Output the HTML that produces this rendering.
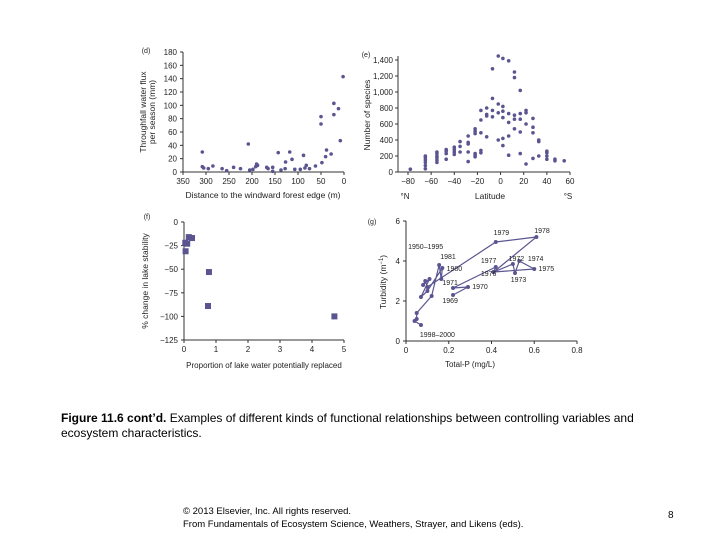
<!DOCTYPE html>
<html><head><meta charset="utf-8"><style>
html,body{margin:0;padding:0;background:#fff;width:720px;height:540px;overflow:hidden;font-family:"Liberation Sans",Arial,sans-serif}
svg{position:absolute;left:0;top:0}
.cap{position:absolute;left:61px;top:411px;font-size:12px;color:#000;line-height:15px;width:600px}
.cr{position:absolute;left:183px;top:505px;font-size:9.5px;line-height:13px}
.pg{position:absolute;left:668px;top:510px;font-size:10px}
</style></head><body>
<svg id="fig" width="720" height="540" font-family="Liberation Sans, Arial, sans-serif"></svg>
<div class="cap"><b>Figure 11.6 cont’d.</b> Examples of different kinds of functional relationships between controlling variables and ecosystem characteristics.</div>
<div class="cr">© 2013 Elsevier, Inc. All rights reserved.<br>From Fundamentals of Ecosystem Science, Weathers, Strayer, and Likens (eds).</div>
<div class="pg">8</div>
<script>
// panel d
const dDist=[308,308,305,295,285,265,255,240,225,208,205,198,192,190,188,168,165,155,155,143,137,128,127,118,113,107,95,88,85,82,75,62,50,50,48,40,38,28,22,22,12,8,2];
const dFlux=[30,8,6,5,9,5,2,7,5,42,3,4,8,12,10,7,5,7,1,29,3,5,15,30,19,4,4,25,6,10,5,9,83,72,14,23,33,27,103,86,95,47,143];
const dXTicks=[350,300,250,200,150,100,50,0];
const dYTicks=[0,20,40,60,80,100,120,140,160,180];
// panel e
const eLat=[-78,-65,-65,-65,-65,-65,-65,-55,-55,-55,-55,-55,-55,-47,-47,-47,-47,-40,-40,-40,-40,-35,-35,-35,-28,-28,-28,-28,-28,-22,-22,-22,-22,-22,-22,-17,-17,-17,-17,-17,-12,-12,-12,-12,-7,-7,-7,-7,-2,-2,-2,-2,2,2,2,2,2,2,7,7,7,7,7,12,12,12,12,12,17,17,17,17,17,22,22,22,22,28,28,28,28,33,33,33,40,40,40,40,47,47,55];
const eSpecies=[35,40,80,120,150,180,200,120,150,180,200,230,250,160,230,260,280,220,250,280,310,250,320,380,130,250,350,370,450,190,210,230,480,510,540,240,270,490,650,770,440,700,720,800,690,770,920,1290,400,740,850,1450,330,420,680,760,820,1420,210,450,620,730,1390,540,660,710,1180,1250,230,500,660,730,1020,100,600,740,770,170,490,560,670,200,380,400,160,200,240,260,140,160,140];
const eXTicks=[-80,-60,-40,-20,0,20,40,60];
const eYTicks=[0,200,400,600,800,1000,1200,1400];
// panel f
const fProp=[0.04,0.05,0.1,0.15,0.25,0.78,0.75,4.7];
const fChange=[-22,-31,-23,-16,-17,-53,-89,-100];
const fXTicks=[0,1,2,3,4,5];
const fYTicks=[0,-25,-50,-75,-100,-125];
// panel g
const gP=[0.07,0.04,0.05,0.05,0.12,0.155,0.165,0.17,0.1,0.07,0.11,0.08,0.09,0.1,0.42,0.61,0.41,0.6,0.53,0.51,0.5,0.41,0.42,0.22,0.29,0.22];
const gTurb=[0.8,1.0,1.1,1.4,2.25,3.8,3.1,3.65,2.5,2.2,3.1,2.8,3.0,2.7,4.95,5.2,3.45,3.6,4.0,3.4,3.85,3.45,3.7,2.65,2.7,2.3];
const gXTicks=[0,0.2,0.4,0.6,0.8];
const gYTicks=[0,2,4,6];
const gLabels=["1998–2000","1950–1995","1981","1980","1971","1969","1970","1979","1978","1977","1972","1974","1976","1975","1973"];
const gLabelPos=[[0.065,0.2],[0.01,4.6],[0.16,4.1],[0.19,3.5],[0.17,2.8],[0.17,1.9],[0.31,2.6],[0.41,5.3],[0.6,5.4],[0.35,3.9],[0.48,4.0],[0.57,4.0],[0.35,3.25],[0.62,3.5],[0.49,2.95]];

const NS='http://www.w3.org/2000/svg';
const svg=document.getElementById('fig');
const C='#5a5590';
function mk(t,a,p){const e=document.createElementNS(NS,t);for(const k in a)e.setAttribute(k,a[k]);(p||svg).appendChild(e);return e;}
function txt(x,y,s,size,anchor,p,rot){const e=mk('text',{x:x,y:y,'font-size':size,'text-anchor':anchor||'middle',fill:'#222'},p);if(rot)e.setAttribute('transform','rotate(-90 '+x+' '+y+')');e.textContent=s;return e;}
function lin(d0,d1,r0,r1){return v=>r0+(v-d0)*(r1-r0)/(d1-d0);}

function axes(g,sx,sy,x0,x1,y0,y1,xt,yt,fmtX,fmtY){
  mk('line',{x1:sx(x0),y1:sy(y0),x2:sx(x1),y2:sy(y0),stroke:'#333','stroke-width':1},g);
  mk('line',{x1:sx(x0),y1:sy(y0),x2:sx(x0),y2:sy(y1),stroke:'#333','stroke-width':1},g);
  xt.forEach(v=>{mk('line',{x1:sx(v),y1:sy(y0),x2:sx(v),y2:sy(y0)+3,stroke:'#333'},g);const t=txt(sx(v),sy(y0)+12,fmtX(v),8,'middle',g);});
  yt.forEach(v=>{mk('line',{x1:sx(x0)-3,y1:sy(v),x2:sx(x0),y2:sy(v),stroke:'#333'},g);const t=txt(sx(x0)-6,sy(v)+3,fmtY(v),8,'end',g);});
}
const neg=v=>String(v).replace('-','−');

// Panel d
{const g=mk('g',{});
const sx=lin(350,0,183,344), sy=lin(0,180,172,52);
axes(g,sx,sy,350,0,0,180,dXTicks,dYTicks,v=>v,v=>v);
txt(146,53,'(d)',7,'middle',g);
txt(263,198,'Distance to the windward forest edge (m)',8.5,'middle',g);
txt(146,112,'Throughfall water flux',8.5,'middle',g,true);txt(155,112,'per season (mm)',8.5,'middle',g,true);
dDist.forEach((d,i)=>{const c=mk('circle',{cx:sx(d),cy:sy(dFlux[i]),r:1.8,fill:C},g);});}

// Panel e
{const g=mk('g',{});
const sx=lin(-80,60,408,570), sy=lin(0,1400,172,60);
mk('line',{x1:398,y1:172,x2:570,y2:172,stroke:'#333'},g);mk('line',{x1:398,y1:172,x2:398,y2:56,stroke:'#333'},g);
eXTicks.forEach(v=>{mk('line',{x1:sx(v),y1:172,x2:sx(v),y2:175,stroke:'#333'},g);txt(sx(v),184,neg(v),8,'middle',g);});
eYTicks.forEach(v=>{mk('line',{x1:395,y1:sy(v),x2:398,y2:sy(v),stroke:'#333'},g);txt(393,sy(v)+3,v.toLocaleString('en-US'),8,'end',g);});
txt(366,57,'(e)',7,'middle',g);
txt(405,199,'°N',8,'middle',g);txt(568,199,'°S',8,'middle',g);txt(490,199,'Latitude',8.5,'middle',g);
txt(370,115,'Number of species',8.5,'middle',g,true);
eLat.forEach((d,i)=>{const c=mk('circle',{cx:sx(d),cy:sy(eSpecies[i]),r:1.8,fill:C},g);});}

// Panel f
{const g=mk('g',{});
const sx=lin(0,5,184,344), sy=lin(0,-125,222,340);
axes(g,sx,sy,0,5,-125,0,fXTicks,fYTicks,v=>v,neg);
txt(147,219,'(f)',7,'middle',g);
txt(264,368,'Proportion of lake water potentially replaced',8,'middle',g);
txt(148,281,'% change in lake stability',8.5,'middle',g,true);
fProp.forEach((d,i)=>{const c=mk('rect',{x:sx(d)-3,y:sy(fChange[i])-3,width:6,height:6,fill:C},g);});}

// Panel g
{const g=mk('g',{});
const sx=lin(0,0.8,406,577), sy=lin(0,6,341,221);
axes(g,sx,sy,0,0.8,0,6,gXTicks,gYTicks,v=>v===0?'0':v.toFixed(1),v=>v);
txt(372,224,'(g)',7,'middle',g);
txt(470,367,'Total-P (mg/L)',8,'middle',g);
const yt=txt(386,282,'',8.5,'middle',g,true);

const ts1=mk('tspan',{},yt);ts1.textContent='Turbidity (m';
const ts2=mk('tspan',{dy:-3,'font-size':6},yt);ts2.textContent='−1';
const ts3=mk('tspan',{dy:3},yt);ts3.textContent=')';
const pl=mk('polyline',{points:gP.map((p,i)=>sx(p)+','+sy(gTurb[i])).join(' '),fill:'none',stroke:C,'stroke-width':1.2},g);

gP.forEach((p,i)=>{const c=mk('circle',{cx:sx(p),cy:sy(gTurb[i]),r:2,fill:C},g);});
gLabels.forEach((s,i)=>{const t=txt(sx(gLabelPos[i][0]),sy(gLabelPos[i][1]),s,7,'start',g);});}
</script>
</body></html>
